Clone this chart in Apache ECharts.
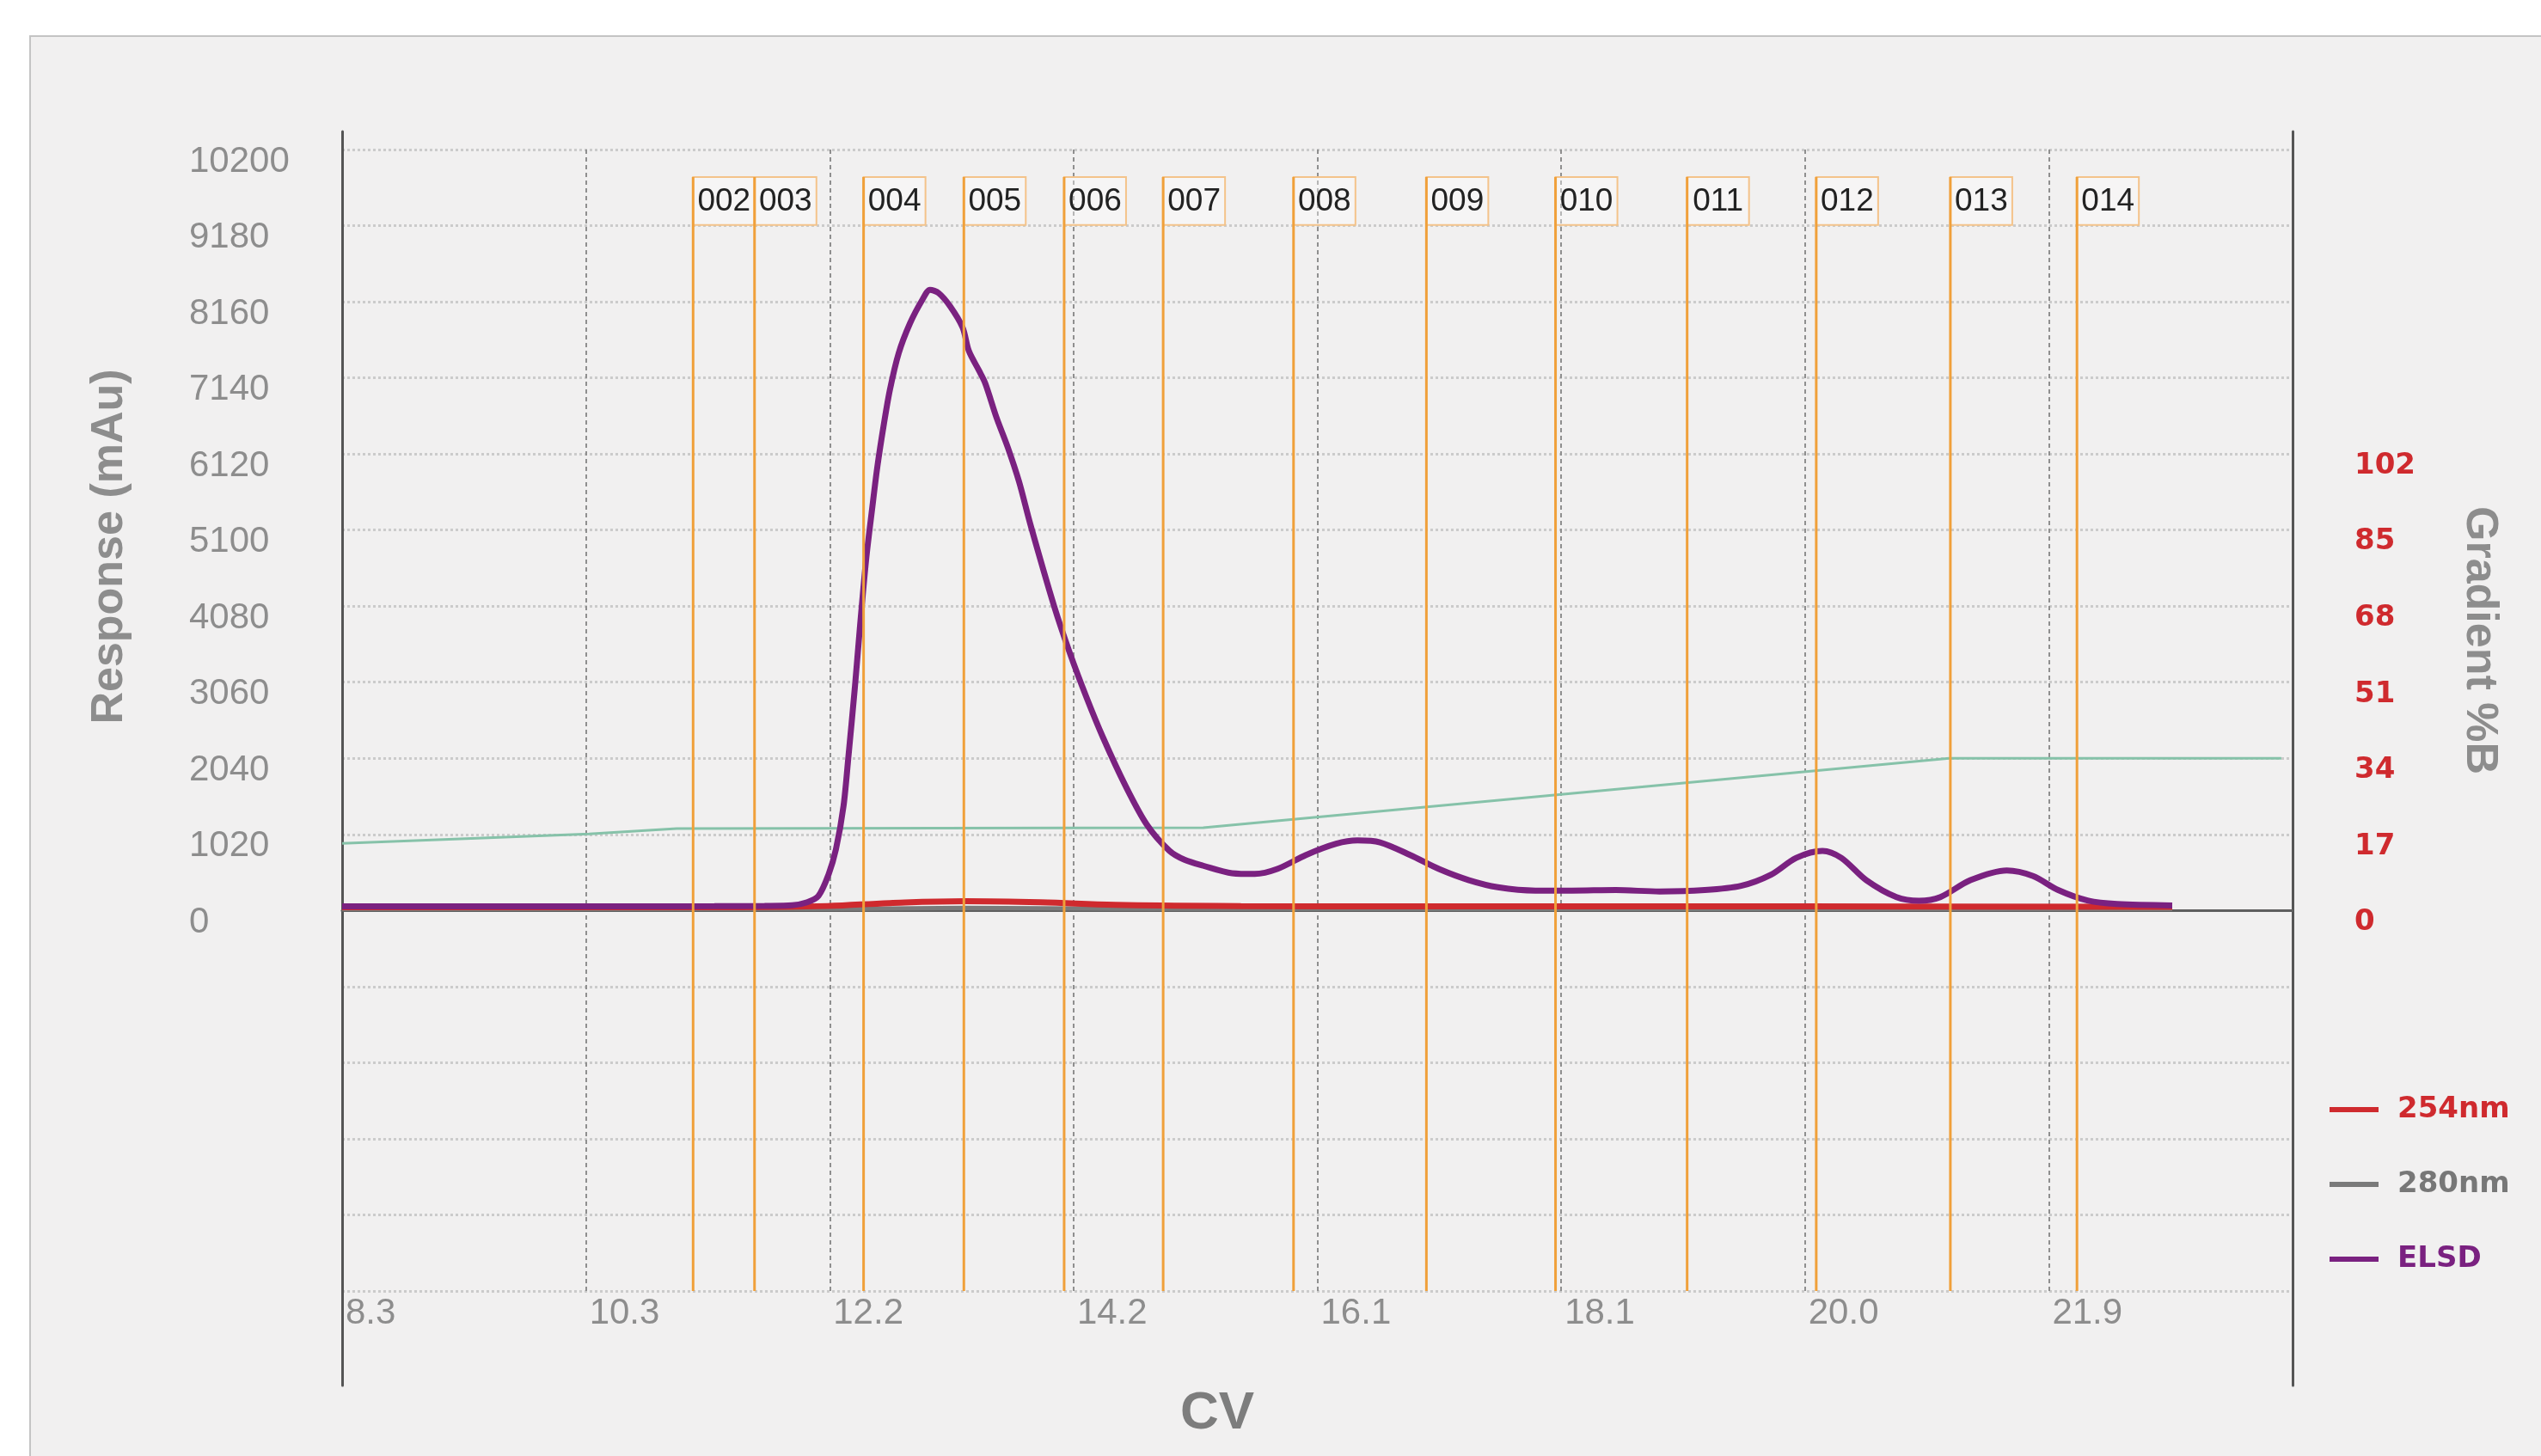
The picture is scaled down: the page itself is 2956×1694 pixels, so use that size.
<!DOCTYPE html>
<html>
<head>
<meta charset="utf-8">
<script src="https://cdn.jsdelivr.net/npm/echarts/dist/echarts.min.js"></script>
<style>
html,body{margin:0;padding:0;background:#ffffff;width:2956px;height:1694px;overflow:hidden}
#panel{position:absolute;left:34px;top:41px;right:0;bottom:0;background:#f1f0f0;border-left:2px solid #c4c4c4;border-top:2px solid #c4c4c4}
#chart{position:absolute;left:0;top:0;width:2956px;height:1694px}
</style>
</head>
<body>
<div id="panel"></div>
<div id="chart"></div>
<script>
// ---- tick labels ----
const cvTickLabels = ['8.3', '10.3', '12.2', '14.2', '16.1', '18.1', '20.0', '21.9'];

// ---- ELSD trace (CV, response mAu) ----
const elsdCV = [8.33, 9.5, 10.5, 11.3, 11.7, 11.92, 12.04, 12.13, 12.21, 12.27, 12.33, 12.37, 12.42, 12.46, 12.51, 12.56, 12.60, 12.65, 12.70, 12.77, 12.86, 12.96, 13.02, 13.09, 13.18, 13.28, 13.33, 13.41, 13.46, 13.55, 13.64, 13.73, 13.82, 14.01, 14.14, 14.27, 14.40, 14.58, 14.75, 14.93, 15.05, 15.20, 15.43, 15.61, 15.79, 16.02, 16.26, 16.43, 16.61, 16.85, 17.08, 17.32, 17.55, 17.85, 18.14, 18.49, 18.84, 19.20, 19.49, 19.73, 19.93, 20.14, 20.29, 20.49, 20.73, 20.91, 21.08, 21.32, 21.61, 21.82, 22.02, 22.26, 22.49, 22.93];
const elsdValue = [55, 55, 55, 58, 62, 70, 110, 195, 480, 825, 1400, 2080, 2980, 3780, 4700, 5410, 5950, 6500, 6980, 7470, 7870, 8190, 8320, 8275, 8100, 7815, 7500, 7240, 7070, 6610, 6210, 5750, 5180, 4080, 3430, 2850, 2320, 1670, 1150, 800, 680, 600, 500, 490, 556, 744, 894, 939, 913, 744, 556, 406, 312, 267, 267, 274, 255, 274, 331, 481, 706, 800, 706, 406, 180, 131, 180, 406, 537, 462, 274, 131, 86, 68];

// ---- 254nm trace ----
const uv254CV = [8.33, 11.5, 12.2, 12.7, 13.3, 13.9, 14.5, 15.5, 17.0, 20.0, 22.93];
const uv254Value = [45, 45, 60, 100, 125, 110, 75, 60, 55, 55, 50];

// ---- 280nm trace ----
const uv280CV = [8.33, 12.5, 13.3, 14.5, 22.93];
const uv280Value = [20, 25, 35, 25, 20];

// ---- gradient %B ----
const gradientCV = [8.33, 10.3, 11.0, 15.2, 21.15, 23.8];
const gradientPct = [15.0, 17.1, 18.3, 18.5, 34.0, 34.0];

// ---- fractions ----
const fractionLabels = ['002', '003', '004', '005', '006', '007', '008', '009', '010', '011', '012', '013', '014'];
const fractionCV = [11.13, 11.62, 12.49, 13.29, 14.09, 14.88, 15.92, 16.98, 18.01, 19.06, 20.09, 21.16, 22.17];

const zip = (a, b) => a.map((v, i) => [v, b[i]]);

const GRAY = '#8d8d8d';
const RED = '#cf2a2e';
const PURPLE = '#7a2180';
const GREY_LINE = '#7a7a7a';

const chart = echarts.init(document.getElementById('chart'), null, {renderer: 'canvas'});

const option = {
  animation: false,
  backgroundColor: 'transparent',
  grid: [
    {left: 398, right: 289, top: 174, bottom: 192, containLabel: false, outerBoundsMode: 'none'},
    {left: 398, right: 289, top: 153, bottom: 82, containLabel: false, outerBoundsMode: 'none'}
  ],
  xAxis: [
    { // label / grid axis
      type: 'value', gridIndex: 0, position: 'bottom',
      min: 0, max: 8, interval: 1,
      axisLine: {show: false, onZero: false},
      axisTick: {show: false},
      axisLabel: {
        show: true, margin: 5, align: 'left', padding: [0, 0, 0, 4],
        color: GRAY, fontSize: 42, fontFamily: 'Liberation Sans',
        formatter: v => (cvTickLabels[v] !== undefined ? cvTickLabels[v] : ''),
        showMinLabel: true, showMaxLabel: true, hideOverlap: false
      },
      splitLine: {show: true, lineStyle: {color: '#8f8f8f', width: 2, type: [5, 4]}}
    },
    { // CV data axis
      type: 'value', gridIndex: 0, position: 'top',
      min: 8.33, max: 23.89,
      axisLine: {show: true, onZero: true, lineStyle: {color: '#5f5f5f', width: 3}},
      axisTick: {show: false},
      axisLabel: {show: false},
      splitLine: {show: false}
    },
    {
      type: 'value', gridIndex: 1, min: 0, max: 1, show: false
    }
  ],
  yAxis: [
    {
      type: 'value', gridIndex: 0, position: 'left',
      min: -5100, max: 10200, interval: 1020,
      axisLine: {show: false, onZero: false},
      axisTick: {show: false},
      axisLabel: {
        margin: 178, align: 'left', verticalAlign: 'top', lineHeight: 28,
        color: GRAY, fontSize: 42, fontFamily: 'Liberation Sans',
        formatter: v => (v >= 0 ? String(v) : ''),
        showMinLabel: true, showMaxLabel: true, hideOverlap: false
      },
      splitLine: {show: true, lineStyle: {color: '#cbcbcb', width: 3, type: [3, 3]}}
    },
    {
      type: 'value', gridIndex: 0, position: 'right',
      min: -85, max: 170, interval: 17,
      axisLine: {show: false, onZero: false},
      axisTick: {show: false},
      axisLabel: {
        margin: 72, align: 'left', verticalAlign: 'top', lineHeight: 28,
        color: RED, fontSize: 34, fontWeight: 'bold', fontFamily: 'DejaVu Sans',
        formatter: v => (v >= 0 && v <= 102 ? String(v) : ''),
        showMinLabel: true, showMaxLabel: true, hideOverlap: false
      },
      splitLine: {show: false}
    },
    {
      type: 'value', gridIndex: 1, position: 'left', min: 0, max: 1,
      axisLine: {show: true, onZero: false, lineStyle: {color: '#555555', width: 3}},
      axisTick: {show: false}, axisLabel: {show: false}, splitLine: {show: false}
    },
    {
      type: 'value', gridIndex: 1, position: 'right', min: 0, max: 1,
      axisLine: {show: true, onZero: false, lineStyle: {color: '#555555', width: 3}},
      axisTick: {show: false}, axisLabel: {show: false}, splitLine: {show: false}
    }
  ],
  legend: {
    orient: 'vertical',
    left: 2705, top: 1266,
    itemWidth: 57, itemHeight: 6, itemGap: 47,
    icon: 'rect',
    textStyle: {fontFamily: 'DejaVu Sans', fontWeight: 'bold', fontSize: 34, lineHeight: 40, padding: [0, 0, 0, 17]},
    data: [
      {name: '254nm', textStyle: {color: RED}},
      {name: '280nm', textStyle: {color: '#777777'}},
      {name: 'ELSD', textStyle: {color: PURPLE}}
    ]
  },
  graphic: [
    {type: 'text', x: 128, y: 636, rotation: Math.PI / 2,
      style: {text: 'Response (mAu)', fill: GRAY, font: 'bold 52px "Liberation Sans"', align: 'center', verticalAlign: 'middle'}},
    {type: 'text', x: 2884, y: 745, rotation: -Math.PI / 2,
      style: {text: 'Gradient %B', fill: GRAY, font: 'bold 52px "Liberation Sans"', align: 'center', verticalAlign: 'middle'}},
    {type: 'text', x: 1416, y: 1645,
      style: {text: 'CV', fill: '#7d7d7d', font: 'bold 62px "Liberation Sans"', align: 'center', verticalAlign: 'middle'}}
  ],
  series: [
    {
      name: 'Gradient', type: 'line', xAxisIndex: 1, yAxisIndex: 1,
      data: zip(gradientCV, gradientPct), showSymbol: false, z: 2,
      lineStyle: {color: '#86c2a9', width: 3}, itemStyle: {color: '#86c2a9'}
    },
    {
      name: '280nm', type: 'line', xAxisIndex: 1, yAxisIndex: 0,
      data: zip(uv280CV, uv280Value), showSymbol: false, smooth: 0.3, z: 3,
      lineStyle: {color: GREY_LINE, width: 5}, itemStyle: {color: GREY_LINE}
    },
    {
      name: '254nm', type: 'line', xAxisIndex: 1, yAxisIndex: 0,
      data: zip(uv254CV, uv254Value), showSymbol: false, smooth: 0.4, z: 4,
      lineStyle: {color: RED, width: 7}, itemStyle: {color: RED}
    },
    {
      name: 'ELSD', type: 'line', xAxisIndex: 1, yAxisIndex: 0,
      data: zip(elsdCV, elsdValue), showSymbol: false, smooth: 0.3, z: 5,
      lineStyle: {color: PURPLE, width: 7}, itemStyle: {color: PURPLE}
    },
    {
      name: 'Fractions', type: 'custom', xAxisIndex: 1, yAxisIndex: 0, z: 6,
      data: fractionCV.map(v => [v, 0]),
      encode: {x: 0, y: 1},
      clip: false,
      renderItem: function (params, api) {
        const x = api.value(0);
        const top = api.coord([x, 9830]);
        const boxBottom = api.coord([x, 9190]);
        const bottom = api.coord([x, -5100]);
        return {
          type: 'group',
          children: [
            {type: 'rect', shape: {x: top[0], y: top[1], width: 72, height: boxBottom[1] - top[1]},
              style: {fill: 'rgba(255,255,255,0.35)', stroke: '#f4c38a', lineWidth: 2}},
            {type: 'line', shape: {x1: top[0], y1: top[1], x2: top[0], y2: bottom[1]},
              style: {stroke: '#f0a03a', lineWidth: 3}},
            {type: 'text', style: {x: top[0] + 36, y: (top[1] + boxBottom[1]) / 2 + 1,
              text: fractionLabels[params.dataIndex], fill: '#222222',
              font: '37px "Liberation Sans"', align: 'center', verticalAlign: 'middle'}}
          ]
        };
      }
    }
  ]
};

chart.setOption(option);
</script>
</body>
</html>
